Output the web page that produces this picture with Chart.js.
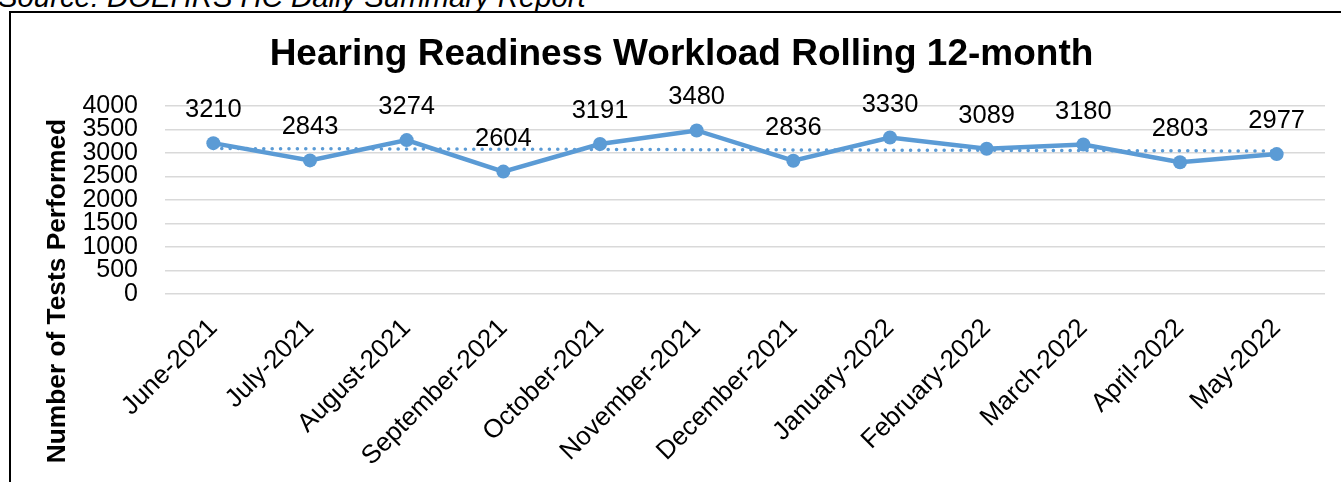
<!DOCTYPE html>
<html><head><meta charset="utf-8">
<script src="https://cdn.jsdelivr.net/npm/chart.js@4.4.1/dist/chart.umd.min.js"></script>
<style>
html,body{margin:0;padding:0;width:1341px;height:482px;overflow:hidden;background:#fff;}
#caption{position:absolute;left:-2px;top:-18px;font:italic 29.3px/29px "Liberation Sans",Arial,sans-serif;color:#000;white-space:nowrap;}
#frame{position:absolute;left:9px;top:11px;width:1400px;height:500px;border-left:2px solid #000;border-top:2px solid #000;}
#wrap{position:absolute;left:0;top:0;width:1341px;height:482px;}
</style></head><body>
<div id="caption">Source: DOEHRS HC Daily Summary Report</div>
<div id="frame"></div>
<div id="wrap"><canvas id="c" width="1341" height="482"></canvas></div>
<script>
const categories = ['June-2021','July-2021','August-2021','September-2021','October-2021','November-2021','December-2021','January-2022','February-2022','March-2022','April-2022','May-2022'];
const testsPerformed = [3210, 2843, 3274, 2604, 3191, 3480, 2836, 3330, 3089, 3180, 2803, 2977];
const trendValues = [3095, null, null, null, null, null, null, null, null, null, null, 3042];
const yMin = 0, yMax = 4000, yStep = 500;
const chartTitle = 'Hearing Readiness Workload Rolling 12-month';
const yAxisTitle = 'Number of Tests Performed';

const FONT = '"Liberation Sans", Arial, sans-serif';
const BLUE = '#5b9bd5';

const labelPlugin = {
  id: 'valueLabels',
  afterDatasetsDraw(chart) {
    const ctx = chart.ctx;
    const meta = chart.getDatasetMeta(0);
    ctx.save();
    ctx.font = '25.5px ' + FONT;
    ctx.fillStyle = '#000';
    ctx.textAlign = 'center';
    ctx.textBaseline = 'middle';
    meta.data.forEach((pt, i) => {
      ctx.fillText(String(testsPerformed[i]), pt.x, pt.y - 33);
    });
    ctx.restore();
  }
};

const yTitlePlugin = {
  id: 'yTitle',
  afterDraw(chart) {
    const ctx = chart.ctx;
    ctx.save();
    ctx.translate(58, 291);
    ctx.rotate(-Math.PI / 2);
    ctx.font = 'bold 26.3px ' + FONT;
    ctx.fillStyle = '#000';
    ctx.textAlign = 'center';
    ctx.textBaseline = 'middle';
    ctx.fillText(yAxisTitle, 0, 0);
    ctx.restore();
  }
};

new Chart(document.getElementById('c'), {
  type: 'line',
  data: {
    labels: categories,
    datasets: [
      {
        label: 'Tests',
        data: testsPerformed,
        borderColor: BLUE,
        backgroundColor: BLUE,
        borderWidth: 4.5,
        pointRadius: 7,
        pointBackgroundColor: BLUE,
        pointBorderColor: BLUE,
        pointBorderWidth: 0,
        tension: 0,
        order: 0
      },
      {
        label: 'Trend',
        data: trendValues,
        spanGaps: true,
        borderColor: BLUE,
        borderWidth: 3.5,
        borderDash: [0.1, 8.3],
        borderCapStyle: 'round',
        pointRadius: 0,
        tension: 0,
        order: 1
      }
    ]
  },
  options: {
    responsive: false,
    animation: false,
    events: [],
    layout: { padding: { left: 38, right: 16, top: 0, bottom: 0 } },
    plugins: {
      legend: { display: false },
      tooltip: { enabled: false },
      title: {
        display: true,
        text: chartTitle,
        color: '#000',
        font: { family: FONT, size: 37, weight: 'bold' },
        padding: { top: 33, bottom: 28.6 }
      }
    },
    scales: {
      x: {
        offset: true,
        grid: { display: false, drawTicks: false },
        border: { display: false },
        ticks: {
          color: '#000',
          font: { family: FONT, size: 26 },
          minRotation: 45,
          maxRotation: 45,
          autoSkip: false,
          padding: 19
        },
        afterFit(scale) { scale.height = 188; }
      },
      y: {
        min: yMin,
        max: yMax,
        grid: { color: '#d9d9d9', lineWidth: 1.5, drawTicks: false },
        border: { display: false },
        ticks: {
          stepSize: yStep,
          autoSkip: false,
          color: '#000',
          font: { family: FONT, size: 25 },
          padding: 27,
          callback: (v) => String(v)
        },
        afterFit(scale) { scale.width = 127; }
      }
    }
  },
  plugins: [labelPlugin, yTitlePlugin]
});
</script>
</body></html>
